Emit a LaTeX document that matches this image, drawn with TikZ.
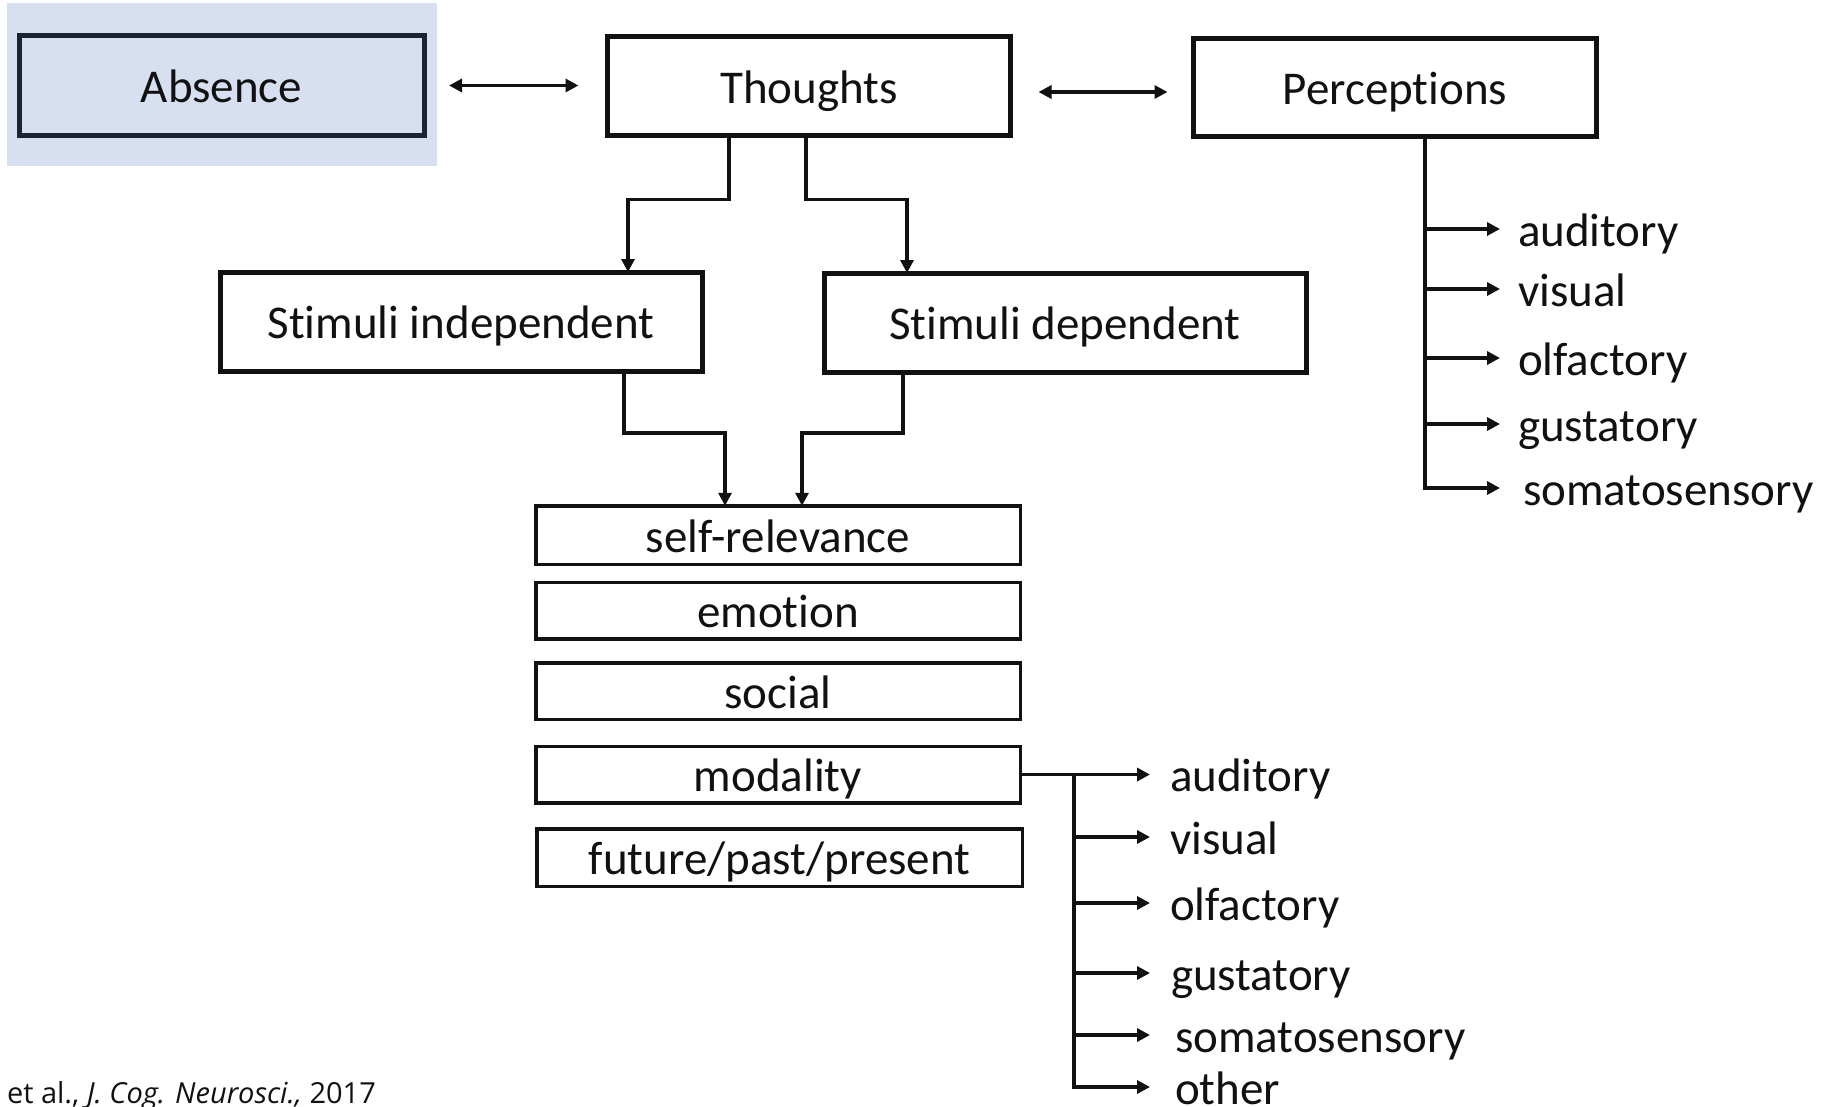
\documentclass[tikz,border=0pt]{standalone}
\usepackage{fontspec}
\setmainfont{Carlito}[Ligatures=NoCommon]
\newfontfamily\citefont{Open Sans}
\usetikzlibrary{arrows.meta,calc}
\definecolor{absbg}{HTML}{D6E0F0}
\definecolor{absline}{HTML}{1B2232}
\definecolor{ink}{HTML}{111111}
\begin{document}
\begin{tikzpicture}[x=1pt,y=-1pt,
  every node/.style={inner sep=0pt, outer sep=0pt, text=ink},
  bigbox/.style={draw=ink, line width=5pt, font=\fontsize{47}{52}\selectfont, text height=34pt, text depth=0pt},
  listbox/.style={draw=ink, line width=3.5pt, font=\fontsize{47}{52}\selectfont, text height=34pt, text depth=0pt},
  conn/.style={draw=ink, line width=3.7pt},
  arr/.style={conn, -{Triangle[length=13pt,width=13pt]}},
  darr/.style={conn, {Triangle[length=13pt,width=13pt]}-{Triangle[length=13pt,width=13pt]}},
  lab/.style={anchor=west, font=\fontsize{47}{52}\selectfont, text height=38pt, text depth=4pt}
]
\useasboundingbox (0,0) rectangle (1829,1106);
\fill[white] (0,0) rectangle (1829,1106);
\fill[absbg] (7,3) rectangle (437,166);

% top row
\node[bigbox, draw=absline, minimum width=405pt, minimum height=100pt] (abs) at (221.5,85.5) {Absence};
\node[bigbox, minimum width=403pt, minimum height=99pt] (th) at (809,86) {Thoughts};
\node[bigbox, minimum width=403pt, minimum height=98pt] (pe) at (1395,87.5) {Perceptions};

% second row
\node[bigbox, minimum width=482pt, minimum height=99pt] (si) at (461,321.5) {Stimuli independent};
\node[bigbox, minimum width=482pt, minimum height=99pt] (sd) at (1065,322.5) {Stimuli dependent};

% list
\node[listbox, minimum width=484.5pt, minimum height=58.5pt] (sr) at (778,535) {self-relevance};
\node[listbox, minimum width=484.5pt, minimum height=56.5pt] (em) at (778,610.5) {emotion};
\node[listbox, minimum width=484.5pt, minimum height=56.5pt] (so) at (778,691) {social};
\node[listbox, minimum width=484.5pt, minimum height=56.5pt] (mo) at (778,774.5) {modality};
\node[listbox, minimum width=485.5pt, minimum height=57.5pt] (fu) at (779.5,857.5) {future/past/present};

% double arrows
\draw[darr] ([xshift=25pt]abs.east) -- ([xshift=-29pt]abs.east -| th.west);
\draw[darr] ([xshift=28pt,yshift=-6pt]th.east) -- ([xshift=-26pt,yshift=-6pt]th.east -| pe.west);

% thoughts to stimuli
\draw[arr] ([xshift=-80pt]th.south) -- ++(0,64) -| ([xshift=167pt]si.north);
\draw[arr] ([xshift=-3pt]th.south) -- ++(0,64) -| ([xshift=-158pt]sd.north);

% stimuli to list
\draw[arr] ([xshift=163pt]si.south) -- ++(0,62) -| ([xshift=-53pt]sr.north);
\draw[arr] ([xshift=-162pt]sd.south) -- ++(0,61) -| ([xshift=24pt]sr.north);

% perceptions tree
\coordinate (ps) at ([xshift=30pt]pe.south);
\node[lab] (pa) at (1518,229) {auditory};
\node[lab] (pv) at (1518,289) {visual};
\node[lab] (po) at (1518,358) {olfactory};
\node[lab] (pg) at (1518,424) {gustatory};
\node[lab] (pso) at (1523,488) {somatosensory};
\draw[arr] (ps) |- ([xshift=-23pt]pso.west);
\foreach \n in {pa,pv,po,pg}{
  \draw[arr] (ps |- \n.west) -- ([xshift=-18pt]\n.west);
}

% modality tree
\coordinate (ms) at ([xshift=54pt]mo.east);
\node[lab] (ma) at (1170,774.5) {auditory};
\node[lab] (mv) at (1170,837) {visual};
\node[lab] (mol) at (1170,903) {olfactory};
\node[lab] (mg) at (1171,973) {gustatory};
\node[lab] (mso) at (1175,1035) {somatosensory};
\node[lab] (mot) at (1175,1087) {other};
\draw[arr] (mo.east) -- ([xshift=-20pt]ma.west);
\draw[arr] (ms) |- ([xshift=-25pt]mot.west);
\draw[arr] (ms |- mv.west) -- ([xshift=-20pt]mv.west);
\draw[arr] (ms |- mol.west) -- ([xshift=-20pt]mol.west);
\draw[arr] (ms |- mg.west) -- ([xshift=-21pt]mg.west);
\draw[arr] (ms |- mso.west) -- ([xshift=-25pt]mso.west);

% citation
\node[anchor=base west, font=\citefont\fontsize{29}{33}\selectfont] (cite) at (7,1103) {et al., \textit{J. Cog. Neurosci.,} 2017};
\end{tikzpicture}
\end{document}
